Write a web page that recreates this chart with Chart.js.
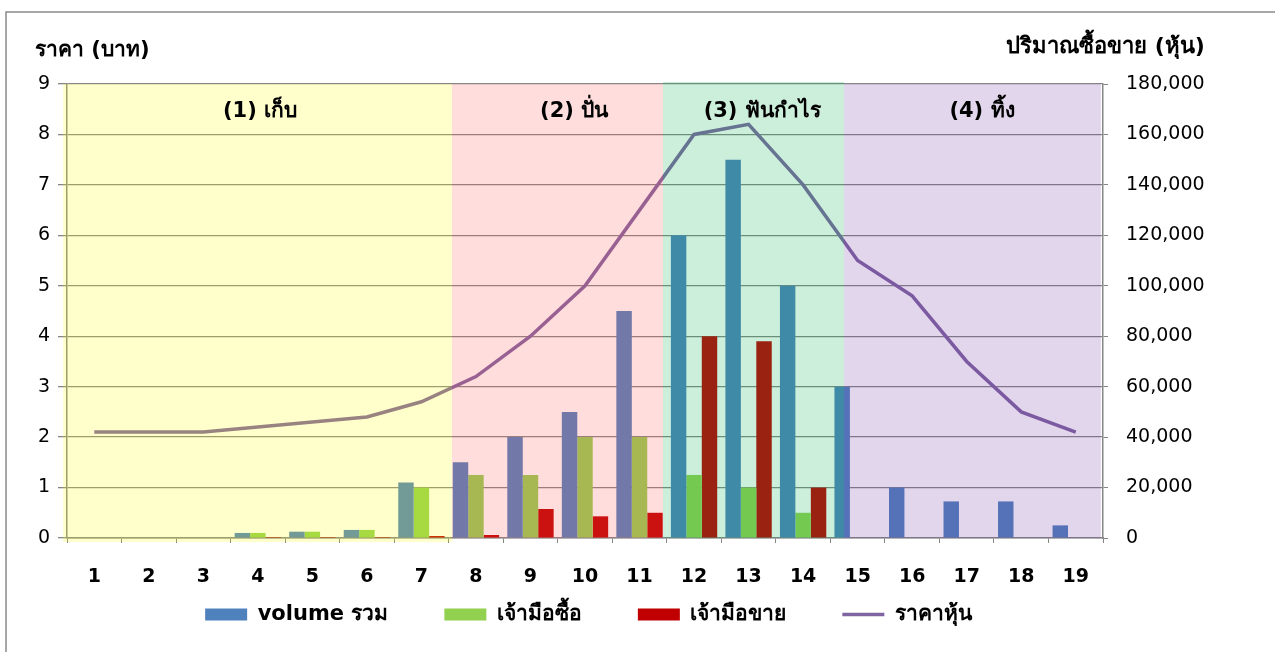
<!DOCTYPE html>
<html>
<head>
<meta charset="utf-8">
<script src="https://cdn.jsdelivr.net/npm/chart.js@4.4.1/dist/chart.umd.min.js"></script>
<style>
    html, body { margin: 0; padding: 0; background: #fff; }
    #wrap { width: 1275px; height: 652px; position: relative; }
</style>
</head>
<body>
<div id="wrap"><canvas id="chart"></canvas></div>
<script>
const categories = ['1', '2', '3', '4', '5', '6', '7', '8', '9', '10', '11', '12', '13', '14', '15', '16', '17', '18', '19'];
const volumeTotal = [0, 0, 0, 2000, 2500, 3200, 22000, 30000, 40000, 50000, 90000, 120000, 150000, 100000, 60000, 20000, 14500, 14500, 5000];
const brokerBuy = [0, 0, 0, 2000, 2500, 3200, 20000, 25000, 25000, 40000, 40000, 25000, 20000, 10000, 0, 0, 0, 0, 0];
const brokerSell = [0, 0, 0, 400, 400, 400, 800, 1200, 11500, 8600, 10000, 80000, 78000, 20000, 0, 0, 0, 0, 0];
const price = [2.1, 2.1, 2.1, 2.2, 2.3, 2.4, 2.7, 3.2, 4.0, 5.0, 6.5, 8.0, 8.2, 7.0, 5.5, 4.8, 3.5, 2.5, 2.1];

const seriesNames = ['volume รวม', 'เจ้ามือซื้อ', 'เจ้ามือขาย', 'ราคาหุ้น'];
const zoneLabels = ['(1) เก็บ', '(2) ปั่น', '(3) ฟันกำไร', '(4) ทิ้ง'];
// zone borders and label centres, in category index units
const zoneEdges = [-0.57, 6.56, 10.43, 13.75, 18.46];
const zoneLabelAt = [3.04, 8.8, 12.25, 16.28];
const zoneColors = ['rgba(255,255,0,0.2)', 'rgba(255,85,85,0.2)', 'rgba(0,176,80,0.2)', 'rgba(112,48,160,0.2)'];

const FONT = 'Tahoma, "DejaVu Sans", "Noto Sans", sans-serif';
const GRID = '#868686';
const LEGEND_PAD = 56;

const zonePlugin = {
    id: 'zones',
    afterLayout(chart) {
        // pull the legend up and a bit left (bottom stays so it is not clipped)
        chart.legend.top = 614 - LEGEND_PAD - 10;
        chart.legend.right -= 98;
    },
    afterDatasetsDraw(chart) {
        const {ctx, chartArea, scales} = chart;
        ctx.save();
        for (let i = 0; i < zoneColors.length; i++) {
            const x1 = scales.x.getPixelForValue(zoneEdges[i]);
            const x2 = scales.x.getPixelForValue(zoneEdges[i + 1]);
            const top = i === 2 ? chartArea.top - 2 : chartArea.top;
            const bottom = i === 0 ? chartArea.bottom + 4 : chartArea.bottom;
            ctx.fillStyle = zoneColors[i];
            ctx.fillRect(x1, top, x2 - x1, bottom - top);
        }
        ctx.restore();
    },
    afterDraw(chart) {
        const {ctx, scales} = chart;
        ctx.save();
        ctx.fillStyle = '#000';
        ctx.font = 'bold 21px ' + FONT;
        ctx.textAlign = 'center';
        ctx.textBaseline = 'middle';
        zoneLabels.forEach((label, i) => {
            ctx.fillText(label, scales.x.getPixelForValue(zoneLabelAt[i]), scales.y.getPixelForValue(8.45));
        });
        // axis titles
        ctx.textAlign = 'left';
        ctx.textBaseline = 'alphabetic';
        ctx.fillText('ราคา (บาท)', 35, 56);
        ctx.font = 'bold 22px ' + FONT;
        ctx.fillText('ปริมาณซื้อขาย (หุ้น)', 1006, 53);
        // outer frame
        ctx.strokeStyle = '#8a8a8a';
        ctx.lineWidth = 1.5;
        ctx.beginPath();
        ctx.moveTo(6, 652);
        ctx.lineTo(6, 12);
        ctx.lineTo(1275, 12);
        ctx.stroke();
        ctx.restore();
    }
};

const legendHeightPlugin = {
    id: 'legendHeight',
    beforeInit(chart) {
        const origFit = chart.legend.fit;
        chart.legend.fit = function () {
            origFit.bind(chart.legend)();
            this.height = 58;
        };
    }
};

const barBase = {
    type: 'bar',
    yAxisID: 'y1',
    borderWidth: 0,
    categoryPercentage: 0.85,
    barPercentage: 1.0,
    pointStyle: 'rect',
};

new Chart(document.getElementById('chart'), {
    data: {
        labels: categories,
        datasets: [
            {...barBase, label: seriesNames[0], data: volumeTotal, backgroundColor: '#4F81BD'},
            {...barBase, label: seriesNames[1], data: brokerBuy, backgroundColor: '#92D050'},
            {...barBase, label: seriesNames[2], data: brokerSell, backgroundColor: '#C00000'},
            {
                type: 'line',
                label: seriesNames[3],
                data: price,
                yAxisID: 'y',
                borderColor: '#8064A2',
                backgroundColor: '#8064A2',
                borderWidth: 3.5,
                pointRadius: 0,
                pointStyle: 'line',
                tension: 0,
            }
        ]
    },
    options: {
        responsive: true,
        maintainAspectRatio: false,
        animation: false,
        layout: {padding: {left: 0, right: 0, top: 84, bottom: 0}},
        plugins: {
            tooltip: {enabled: false},
            legend: {
                position: 'bottom',
                labels: {
                    usePointStyle: true,
                    pointStyleWidth: 42,
                    boxHeight: 12,
                    padding: LEGEND_PAD,
                    color: '#000',
                    font: {family: FONT, size: 21, weight: 'bold'},
                }
            }
        },
        scales: {
            x: {
                offset: true,
                grid: {display: true, drawOnChartArea: false, drawTicks: true, tickLength: 5, color: GRID, offset: true},
                border: {display: true, color: GRID, width: 1.5},
                ticks: {color: '#000', padding: 23, font: {family: FONT, size: 19, weight: 'bold'}},
                afterFit(scale) { scale.height = 56; }
            },
            y: {
                position: 'left',
                min: 0,
                max: 9,
                ticks: {stepSize: 1, color: '#000', padding: 8, font: {family: FONT, size: 19}},
                grid: {color: GRID, lineWidth: 1.3, tickLength: 9},
                border: {display: true, color: GRID, width: 1.5},
                afterFit(scale) { scale.width = 67; }
            },
            y1: {
                position: 'right',
                min: 0,
                max: 180000,
                ticks: {
                    stepSize: 20000,
                    color: '#000',
                    padding: 18,
                    font: {family: FONT, size: 19},
                    callback: (v) => v.toLocaleString('en-US')
                },
                grid: {drawOnChartArea: false, tickLength: 5, color: GRID},
                border: {display: true, color: GRID, width: 1.5},
                afterFit(scale) { scale.width = 172; }
            }
        }
    },
    plugins: [zonePlugin, legendHeightPlugin]
});
</script>
</body>
</html>
